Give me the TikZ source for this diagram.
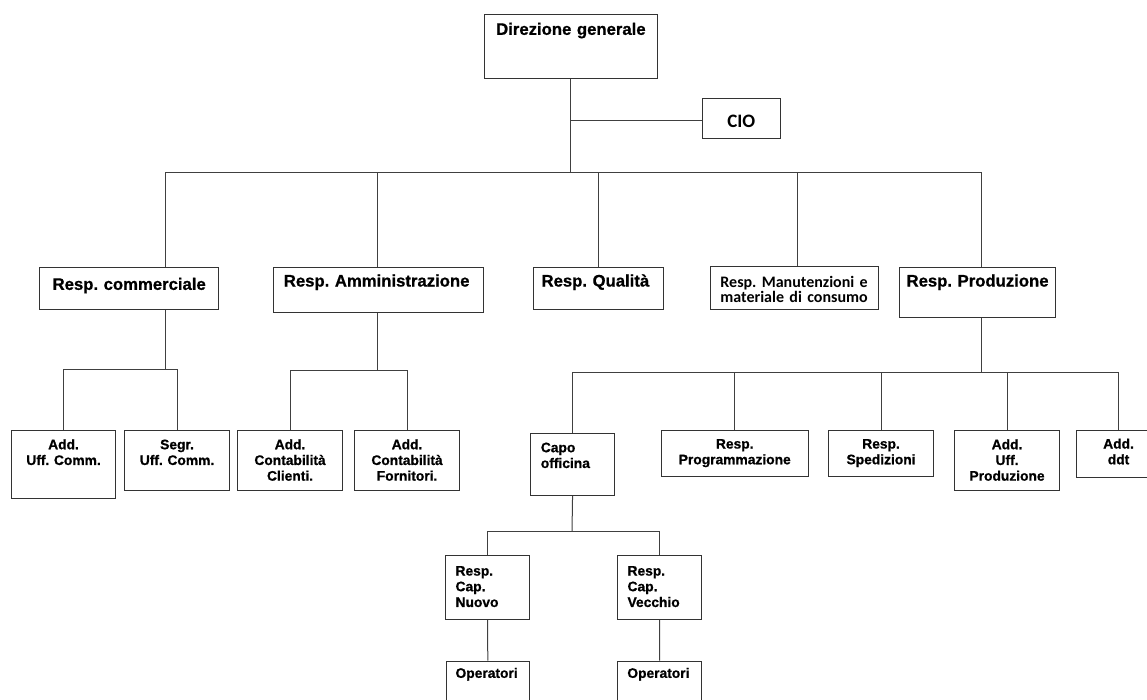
\documentclass[tikz,border=0pt]{standalone}
\usepackage{fontspec}
\setmainfont{Liberation Sans}[BoldFeatures={FakeBold=0.8}]
\newfontfamily\calib{Carlito}
\begin{document}
\frenchspacing
\begin{tikzpicture}[x=1pt,y=-1pt,
  box/.style={draw=black!80, line width=1.1pt, inner sep=0pt, anchor=north west, align=center},
  lbox/.style={box, align=left},
  big/.style={font=\frenchspacing\fontsize{16.7}{20}\selectfont\bfseries},
  small/.style={font=\frenchspacing\fontsize{13.8}{15.7}\selectfont\bfseries},
  conn/.style={draw=black!75, line width=1pt}
]
\useasboundingbox (0,0) rectangle (1147,700);

% level 0/1
\node[box,big,text width=172.7pt,text height=20pt,text depth=43.4pt] (dir) at (484,14.3) {Direzione generale};
\node[box,font=\calib\bfseries\fontsize{19}{22}\selectfont,text width=78pt,text height=29pt,text depth=11.6pt] (cio) at (701.7,97.7) {CIO};

\node[box,big,text width=179.3pt,text height=22.6pt,text depth=19.4pt] (comm) at (39,266.7) {Resp. commerciale};
\node[lbox,big,inner xsep=10pt,text width=190pt,text height=19.3pt,text depth=26.3pt] (amm) at (273.3,266.7) {Resp. Amministrazione};
\node[lbox,big,inner xsep=8pt,text width=114.3pt,text height=19.3pt,text depth=22.7pt] (qual) at (533,266.7) {Resp. Qualità};
\node[box,font=\frenchspacing\calib\bfseries\fontsize{16}{15.4}\selectfont,text width=168pt,text height=20.5pt,text depth=21.9pt] (man) at (709.5,266.3) {Resp. Manutenzioni e\\materiale di consumo};
\node[box,big,text width=155.4pt,text height=19.3pt,text depth=30.7pt] (prod) at (899.3,266.7) {Resp. Produzione};

% level 2
\node[box,small,text width=104.6pt,text height=18.7pt,text depth=49pt] (addc) at (10.7,430) {Add.\\Uff. Comm.};
\node[box,small,text width=105.6pt,text height=18.7pt,text depth=41.3pt] (segr) at (123.7,430) {Segr.\\Uff. Comm.};
\node[box,small,text width=105.6pt,text height=18.7pt,text depth=41.3pt] (cli) at (236.7,430) {Add.\\Contabilità\\Clienti.};
\node[box,small,text width=105pt,text height=18.7pt,text depth=41.3pt] (forn) at (354,430) {Add.\\Contabilità\\Fornitori.};
\node[lbox,small,inner xsep=10.6pt,text width=63.4pt,text height=18.4pt,text depth=43.3pt] (capo) at (529.7,433.3) {Capo\\officina};
\node[box,small,text width=147pt,text height=18pt,text depth=28pt] (prog) at (660.7,430) {Resp.\\Programmazione};
\node[box,small,text width=104.4pt,text height=18pt,text depth=28pt] (sped) at (828.3,430) {Resp.\\Spedizioni};
\node[box,small,text width=105pt,text height=18.7pt,text depth=41.3pt] (uffp) at (954,430) {Add.\\Uff.\\Produzione};
\node[box,small,text width=84pt,text height=18pt,text depth=28.7pt] (ddt) at (1076,430) {Add.\\ddt};

% level 3/4
\node[lbox,small,inner xsep=9.7pt,text width=64pt,text height=19.7pt,text depth=43.7pt] (nuovo) at (445.3,555.3) {Resp.\\Cap.\\Nuovo};
\node[lbox,small,inner xsep=9.7pt,text width=64.3pt,text height=19.7pt,text depth=43.7pt] (vecchio) at (617.3,555.3) {Resp.\\Cap.\\Vecchio};
\node[lbox,small,inner xsep=9.5pt,text width=64.5pt,text height=16.6pt,text depth=44.4pt] (op1) at (445.5,660.7) {Operatori};
\node[lbox,small,inner xsep=9.5pt,text width=64.4pt,text height=16.6pt,text depth=44.4pt] (op2) at (617.3,660.7) {Operatori};

% main bus
\coordinate (b1) at (165.7,172.3);
\coordinate (b2) at (377,172.3);
\coordinate (b3) at (598.7,172.3);
\coordinate (b4) at (797,172.3);
\coordinate (b5) at (981.3,172.3);
\coordinate (jc) at (570.7,121);
\draw[conn] (b1) -- (b5);
\draw[conn] (dir.south) -- (dir.south |- b1);
\draw[conn] (jc) -- (jc -| cio.west);
\draw[conn] (b1) -- (b1 |- comm.north);
\draw[conn] (b2) -- (b2 |- amm.north);
\draw[conn] (b3) -- (b3 |- qual.north);
\draw[conn] (b4) -- (b4 |- man.north);
\draw[conn] (b5) -- (b5 |- prod.north);

% commerciale
\coordinate (sC) at (165.7,369);
\draw[conn] (sC |- comm.south) -- (sC);
\draw[conn] (addc.north) |- (sC);
\draw[conn] (segr.north) |- (sC);

% amministrazione
\coordinate (sA) at (377,370.7);
\draw[conn] (sA |- amm.south) -- (sA);
\draw[conn] (cli.north) |- (sA);
\draw[conn] (forn.north) |- (sA);

% produzione
\coordinate (sP) at (981.3,372.5);
\draw[conn] (sP |- prod.south) -- (sP);
\draw[conn] (capo.north) |- (sP);
\draw[conn] (prog.north) |- (sP);
\draw[conn] (sped.north) |- (sP);
\draw[conn] (uffp.north) |- (sP);
\draw[conn] (ddt.north) |- (sP);

% capo officina
\coordinate (sK) at (572,531.7);
\draw[conn] (capo.south) -- (sK);
\draw[conn] (nuovo.north) |- (sK);
\draw[conn] (vecchio.north) |- (sK);
\draw[conn] (nuovo.south) -- (op1.north);
\draw[conn] (vecchio.south) -- (op2.north);
\end{tikzpicture}
\end{document}
